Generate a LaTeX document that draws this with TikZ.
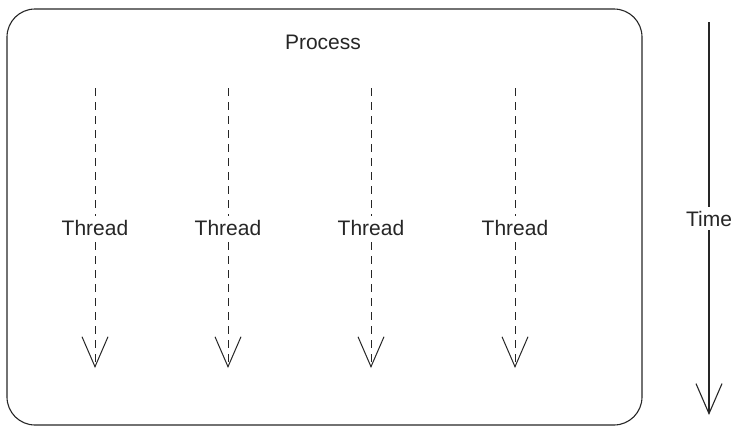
\documentclass[tikz,border=0pt]{standalone}
\usepackage{fontspec}
\setmainfont{Liberation Sans}
\usetikzlibrary{arrows.meta}
\begin{document}
\begin{tikzpicture}[x=1pt,y=-1pt,
  boxstyle/.style={draw=black!85, line width=1.1pt, rounded corners=28pt},
  lbl/.style={font=\fontsize{21}{23}\selectfont, text=black!85, inner sep=3pt},
  arrowlbl/.style={lbl, fill=white, inner sep=4pt},
  threadarrow/.style={draw=black!85, line width=0.9pt, dash pattern=on 8pt off 6pt,
     -{Straight Barb[length=30pt,width=26pt,line width=1pt]}},
  timearrow/.style={draw=black!85, line width=1.1pt,
     -{Straight Barb[length=30pt,width=26pt,line width=1.1pt]}}
]
\useasboundingbox (0,0) rectangle (737,432);
\draw[boxstyle] (7,9) rectangle (642,425);
\node[lbl] (proc) at (323,42) {Process};
\foreach \i/\x in {1/95,2/228,3/371,4/515}{
  \coordinate (t\i top) at (\x,88);
  \coordinate (t\i bot) at (\x,368);
  \draw[threadarrow] (t\i top) -- node[arrowlbl] (lab\i) {Thread} (t\i bot);
}
\coordinate (timetop) at (709,22);
\coordinate (timebot) at (709,415);
\draw[timearrow] (timetop) -- node[arrowlbl] (timelab) {Time} (timebot);
\end{tikzpicture}
\end{document}
